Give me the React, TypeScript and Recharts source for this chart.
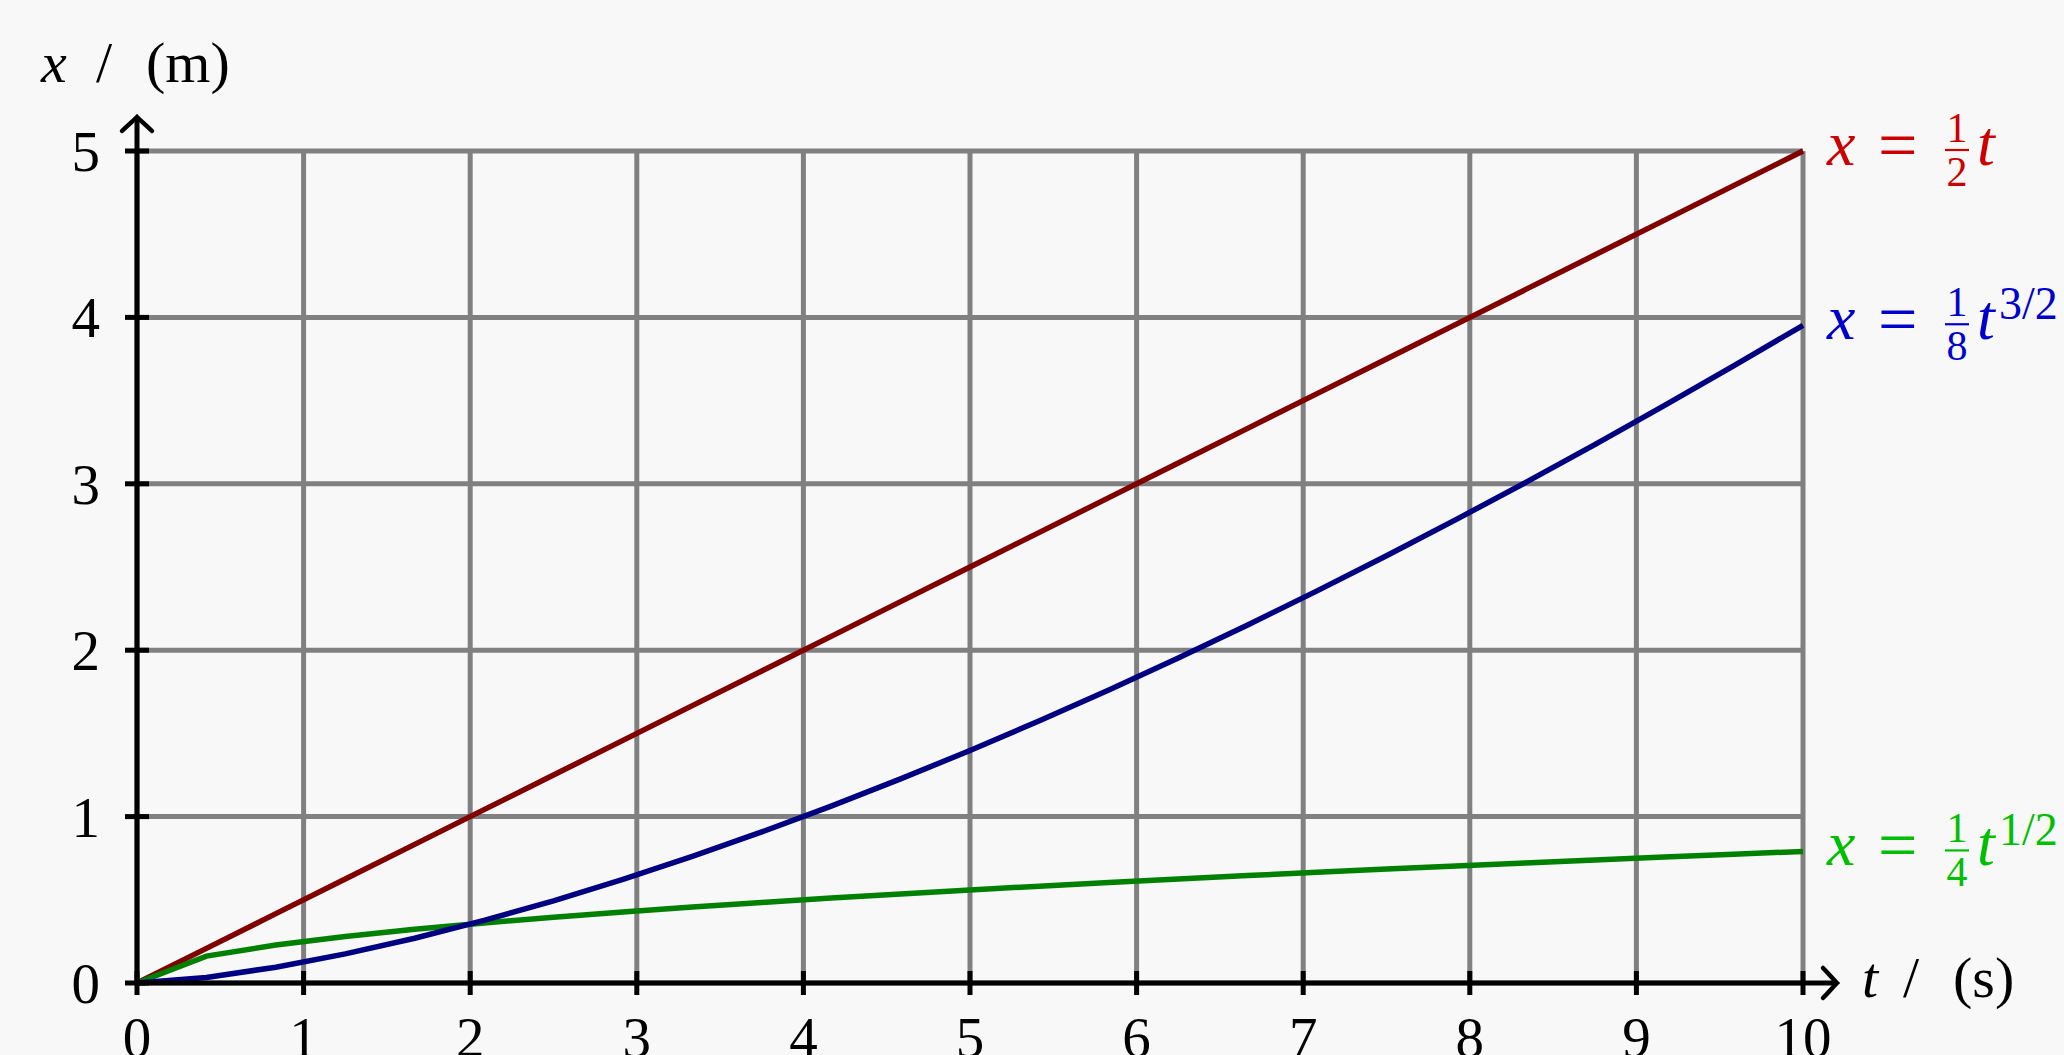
import React from "react";
import { LineChart, Line, XAxis, YAxis, CartesianGrid, LabelList } from "recharts";

const tValues = [0, 0.4167, 0.8333, 1.25, 1.6667, 2.0833, 2.5, 2.9167, 3.3333, 3.75, 4.1667, 4.5833, 5, 5.4167, 5.8333, 6.25, 6.6667, 7.0833, 7.5, 7.9167, 8.3333, 8.75, 9.1667, 9.5833, 10];
const redValues = [0, 0.2083, 0.4167, 0.625, 0.8333, 1.0417, 1.25, 1.4583, 1.6667, 1.875, 2.0833, 2.2917, 2.5, 2.7083, 2.9167, 3.125, 3.3333, 3.5417, 3.75, 3.9583, 4.1667, 4.375, 4.5833, 4.7917, 5];
const blueValues = [0, 0.0336, 0.0951, 0.1747, 0.269, 0.3759, 0.4941, 0.6227, 0.7607, 0.9077, 1.0631, 1.2265, 1.3975, 1.5758, 1.7611, 1.9531, 2.1517, 2.3565, 2.5675, 2.7844, 3.007, 3.2353, 3.4692, 3.7084, 3.9528];
const greenValues = [0, 0.1614, 0.2282, 0.2795, 0.3227, 0.3608, 0.3953, 0.427, 0.4564, 0.4841, 0.5103, 0.5352, 0.559, 0.5818, 0.6038, 0.625, 0.6455, 0.6654, 0.6847, 0.7034, 0.7217, 0.7395, 0.7569, 0.7739, 0.7906];

const xTicks = [0, 1, 2, 3, 4, 5, 6, 7, 8, 9, 10];
const yTicks = [0, 1, 2, 3, 4, 5];

const data = tValues.map((t, i) => ({ t, red: redValues[i], blue: blueValues[i], green: greenValues[i] }));
const LAST = tValues.length - 1;

const FONT = "Liberation Serif, DejaVu Serif, serif";
const W = 2064;
const H = 1055;

const XTick = (props: any) => {
  const { x, y, payload } = props;
  const v = payload.value;
  const isLast = v === xTicks[xTicks.length - 1];
  return (
    <g>
      <line x1={x} y1={y - 12} x2={x} y2={y + 12} stroke="#000" strokeWidth={5} />
      <text x={x} y={y + 74} textAnchor="middle" fontFamily={FONT} fontSize={57} fill="#000">{v}</text>
      {isLast && (
        <g>
          <line x1={x} y1={y} x2={x + 32} y2={y} stroke="#000" strokeWidth={5} />
          <path d={`M ${x + 20},${y - 15} C ${x + 26},${y - 9} ${x + 30},${y - 4} ${x + 34},${y} C ${x + 30},${y + 4} ${x + 26},${y + 9} ${x + 20},${y + 15}`} fill="none" stroke="#000" strokeWidth={4.5} strokeLinecap="round" />
          <text y={y + 14} fontFamily={FONT} fontSize={58} fill="#000">
            <tspan x={x + 59} fontStyle="italic">t</tspan>
            <tspan x={x + 100}>/</tspan>
            <tspan x={x + 150}>(s)</tspan>
          </text>
        </g>
      )}
    </g>
  );
};

const YTick = (props: any) => {
  const { x, y, payload } = props;
  const v = payload.value;
  const isLast = v === yTicks[yTicks.length - 1];
  return (
    <g>
      <line x1={x - 12} y1={y} x2={x + 12} y2={y} stroke="#000" strokeWidth={5} />
      <text x={x - 37} y={y + 20} textAnchor="end" fontFamily={FONT} fontSize={57} fill="#000">{v}</text>
      {isLast && (
        <g>
          <line x1={x} y1={y} x2={x} y2={y - 32} stroke="#000" strokeWidth={5} />
          <path d={`M ${x - 15},${y - 20} C ${x - 9},${y - 26} ${x - 4},${y - 30} ${x},${y - 34} C ${x + 4},${y - 30} ${x + 9},${y - 26} ${x + 15},${y - 20}`} fill="none" stroke="#000" strokeWidth={4.5} strokeLinecap="round" />
          <text y={y - 69} fontFamily={FONT} fontSize={58} fill="#000">
            <tspan x={x - 96} fontStyle="italic">x</tspan>
            <tspan x={x - 41}>/</tspan>
            <tspan x={x + 9}>(m)</tspan>
          </text>
        </g>
      )}
    </g>
  );
};

const makeEndLabel = (color: string, denom: string, sup: string | null) => (p: any) => {
  if (p.index !== LAST) return null;
  const px = Number(p.x);
  const py = Number(p.y);
  return (
    <g fill={color} fontFamily={FONT}>
      <text x={px + 24} y={py + 14} fontSize={64} fontStyle="italic">x</text>
      <text x={px + 75} y={py + 18} fontSize={70}>=</text>
      <text x={px + 154} y={py - 9} fontSize={42} textAnchor="middle">1</text>
      <line x1={px + 142} y1={py - 1} x2={px + 166} y2={py - 1} stroke={color} strokeWidth={2.2} />
      <text x={px + 154} y={py + 35} fontSize={42} textAnchor="middle">{denom}</text>
      <text x={px + 174} y={py + 14} fontSize={64} fontStyle="italic">t</text>
      {sup && <text x={px + 196} y={py - 6} fontSize={46}>{sup}</text>}
    </g>
  );
};

export default function App() {
  return (
    <div style={{ position: "fixed", left: 0, top: 0, width: W, height: H, background: "#f8f8f8", overflow: "hidden" }}>
      <LineChart width={W} height={H} data={data} margin={{ top: 151, right: 261, bottom: 71, left: 136 }}>
        <CartesianGrid stroke="#808080" strokeWidth={5} />
        <XAxis
          dataKey="t"
          type="number"
          domain={[0, 10]}
          ticks={xTicks}
          interval={0}
          height={1}
          tickSize={0}
          tickMargin={0}
          tickLine={false}
          axisLine={{ stroke: "#000", strokeWidth: 5 }}
          tick={<XTick />}
        />
        <YAxis
          type="number"
          domain={[0, 5]}
          ticks={yTicks}
          interval={0}
          width={1}
          tickSize={0}
          tickMargin={0}
          tickLine={false}
          axisLine={{ stroke: "#000", strokeWidth: 5 }}
          tick={<YTick />}
        />
        <Line dataKey="red" stroke="#800000" strokeWidth={5.5} dot={false} isAnimationActive={false}>
          <LabelList dataKey="red" content={makeEndLabel("#cc0000", "2", null)} />
        </Line>
        <Line dataKey="green" stroke="#008000" strokeWidth={5.5} dot={false} isAnimationActive={false}>
          <LabelList dataKey="green" content={makeEndLabel("#00bf00", "4", "1/2")} />
        </Line>
        <Line dataKey="blue" stroke="#000080" strokeWidth={5.5} dot={false} isAnimationActive={false}>
          <LabelList dataKey="blue" content={makeEndLabel("#0000cc", "8", "3/2")} />
        </Line>
      </LineChart>
    </div>
  );
}
